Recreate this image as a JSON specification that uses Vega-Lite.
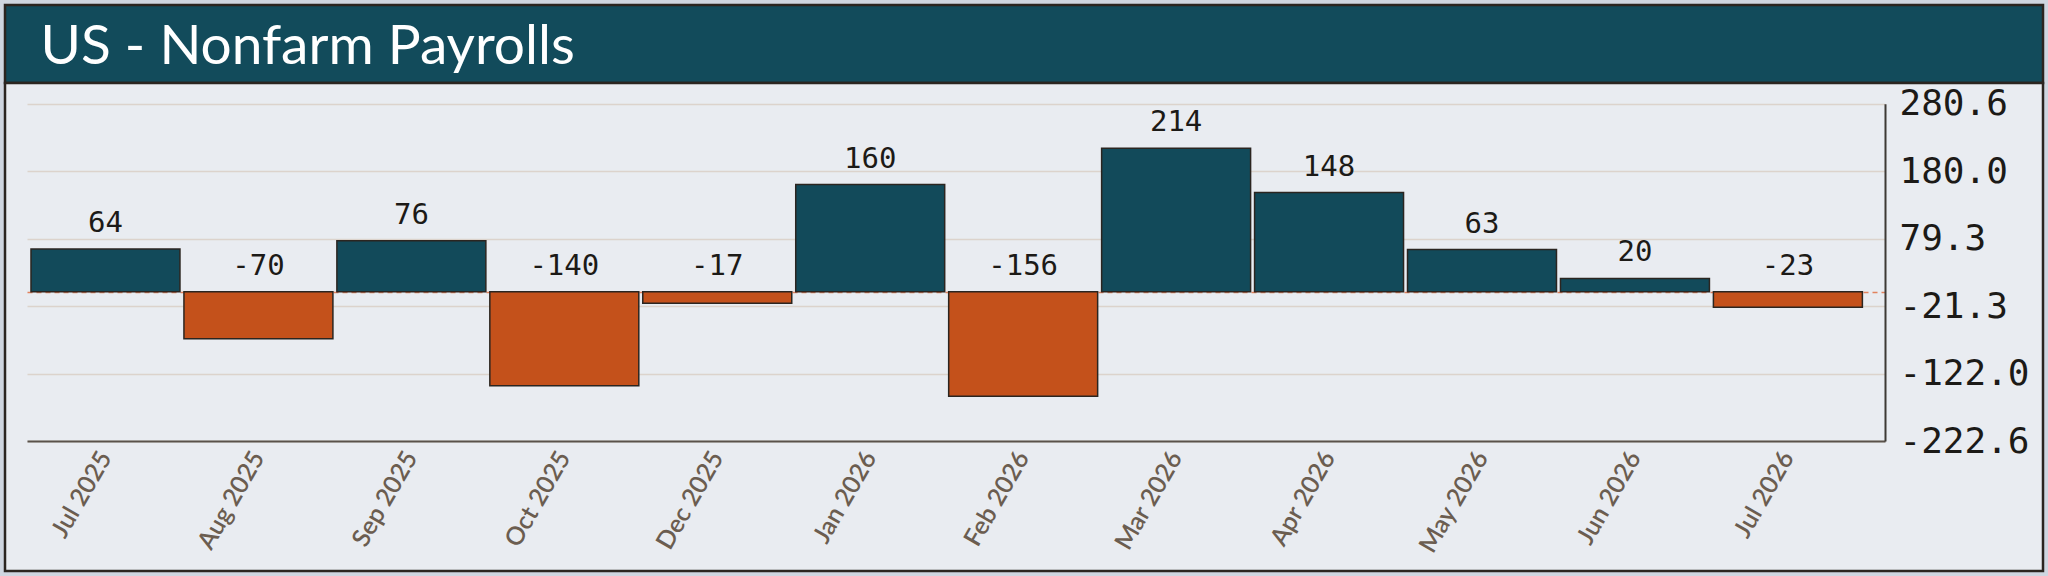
{
  "$schema": "https://vega.github.io/schema/vega-lite/v6.json",
  "background": "#cfd6e0",
  "padding": {"left": 3, "top": 3, "right": 4, "bottom": 3},
  "config": {"view": {"stroke": null}},
  "spacing": 0,
  "bounds": "flush",
  "vconcat": [
    {
      "width": 2038,
      "height": 78,
      "view": {"fill": "#124b5b", "stroke": "#2b2520", "strokeWidth": 2.5},
      "data": {"values": [{"t": 0}]},
      "mark": "text",
      "encoding": {
        "x": {
          "field": "t",
          "type": "quantitative",
          "axis": {
            "orient": "top",
            "title": "US - Nonfarm Payrolls",
            "titleFont": "Lato",
            "titleFontSize": 55,
            "titleFontWeight": "normal",
            "titleColor": "#ffffff",
            "titleAnchor": "start",
            "titleAlign": "left",
            "titleBaseline": "alphabetic",
            "titleX": 35,
            "titleY": 58,
            "labels": false,
            "ticks": false,
            "domain": false,
            "grid": false
          }
        }
      }
    },
    {
      "width": 2038,
      "height": 488,
      "view": {"fill": "#e9ecf1", "stroke": "#2b2520", "strokeWidth": 2.5},
      "data": {
        "values": [
          {"month": "Jul 2025", "value": 64},
          {"month": "Aug 2025", "value": -70},
          {"month": "Sep 2025", "value": 76},
          {"month": "Oct 2025", "value": -140},
          {"month": "Dec 2025", "value": -17},
          {"month": "Jan 2026", "value": 160},
          {"month": "Feb 2026", "value": -156},
          {"month": "Mar 2026", "value": 214},
          {"month": "Apr 2026", "value": 148},
          {"month": "May 2026", "value": 63},
          {"month": "Jun 2026", "value": 20},
          {"month": "Jul 2026", "value": -23}
        ]
      },
      "encoding": {
        "x": {
          "field": "month",
          "type": "nominal",
          "sort": null,
          "scale": {"range": [22, 1880], "paddingInner": 0.026, "paddingOuter": 0.087, "align": 0.15},
          "axis": {
            "title": null,
            "offset": -130,
            "labelAngle": -60,
            "labelFont": "Lato",
            "labelFontSize": 25,
            "labelFontWeight": 600,
            "labelColor": "#6b5d50",
            "ticks": false,
            "labelPadding": 12,
            "domainColor": "#5a524b",
            "domainWidth": 2,
            "grid": false
          }
        }
      },
      "layer": [
        {
          "mark": {"type": "bar", "stroke": "#2b2520", "strokeWidth": 1.5},
          "encoding": {
            "y": {
              "field": "value",
              "type": "quantitative",
              "scale": {"domain": [-222.6, 280.6], "range": [358, 20.7], "nice": false, "zero": false},
              "axis": {
                "title": null,
                "orient": "right",
                "offset": -158,
                "values": [280.6, 180.0, 79.3, -21.3, -122.0, -222.6],
                "format": ".1f",
                "labelExpr": "replace(datum.label, '−', '-')",
                "labelFont": "DejaVu Sans Mono",
                "labelFontSize": 36,
                "labelColor": "#1c1a17",
                "labelFlush": false,
                "labelOverlap": false,
                "ticks": false,
                "labelPadding": 14,
                "domainColor": "#3d3935",
                "domainWidth": 2,
                "grid": false
              }
            },
            "fill": {
              "condition": {"test": "datum.value < 0", "value": "#c4511b"},
              "value": "#124a5a"
            }
          }
        },
        {
          "transform": [{"filter": "datum.value >= 0"}],
          "mark": {"type": "text", "font": "DejaVu Sans Mono", "fontSize": 29, "color": "#1c1a17", "baseline": "alphabetic", "dy": -17},
          "encoding": {
            "y": {
              "field": "value",
              "type": "quantitative",
              "axis": {
                "title": null,
                "orient": "left",
                "offset": 0,
                "values": [280.6, 180.0, 79.3, 0, -21.3, -122.0, -222.6],
                "labels": false,
                "ticks": false,
                "domain": false,
                "grid": true,
                "gridColor": {"condition": {"test": "datum.value === 0", "value": "#e2825e"}, "value": "#dcd3cc"},
                "gridDash": {"condition": {"test": "datum.value === 0", "value": [5, 4]}, "value": []},
                "gridWidth": 1.5
              }
            },
            "text": {"field": "value", "type": "nominal"}
          }
        },
        {
          "transform": [{"filter": "datum.value < 0"}],
          "mark": {"type": "text", "font": "DejaVu Sans Mono", "fontSize": 29, "color": "#1c1a17", "baseline": "alphabetic", "dy": -17},
          "encoding": {
            "y": {"datum": 0, "type": "quantitative", "axis": null},
            "text": {"field": "value", "type": "nominal"}
          }
        }
      ],
      "resolve": {"axis": {"y": "independent"}}
    }
  ]
}
